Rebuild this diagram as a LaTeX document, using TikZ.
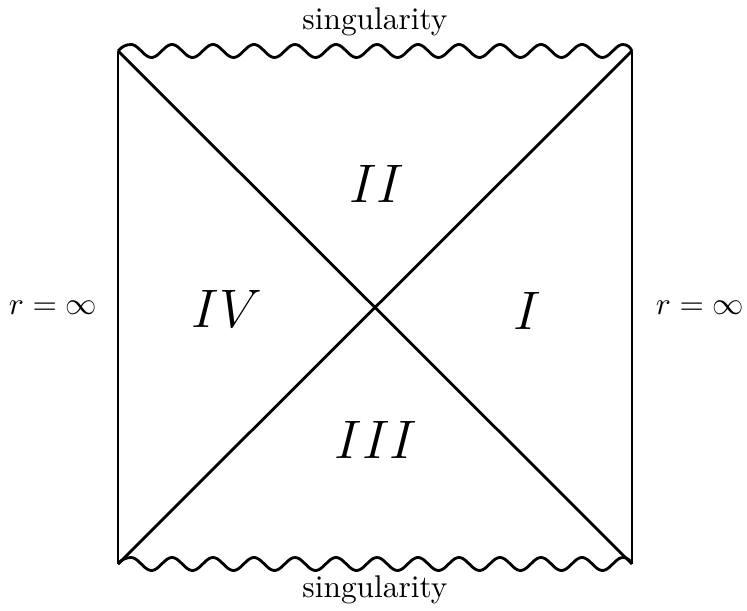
\documentclass[tikz,border=0pt]{standalone}
\begin{document}
\begin{tikzpicture}[x=0.3185pt,y=-0.3185pt,
  edge/.style={line width=0.9pt},
  wavy/.style={line width=0.9pt,line join=round},
  region/.style={font=\LARGE}]
\useasboundingbox (0,0) rectangle (747,611);
\coordinate (tl) at (118,51);
\coordinate (tr) at (632,51);
\coordinate (bl) at (118,564);
\coordinate (br) at (632,564);
\draw[edge] (tl) -- (bl);
\draw[edge] (tr) -- (br);
\draw[edge] (tl) -- (br);
\draw[edge] (bl) -- (tr);
\draw[wavy] (tl) .. controls (122,46.5) and (126,44.5) .. (131,44.5)
  -- plot[domain=131:623,samples=247] (\x,{51-6.5*cos(8.7805*(\x-131))})
  .. controls (627,44.5) and (630,47) .. (tr);
\draw[wavy] (bl) .. controls (122,559.5) and (126,557.5) .. (131,557.5)
  -- plot[domain=131:623,samples=247] (\x,{564-6.5*cos(8.7805*(\x-131))})
  .. controls (627,557.5) and (630,560) .. (br);
\node (stop) at (375,22) {singularity};
\node (sbot) at (375,590) {singularity};
\node (rl) at (53,308) {$r=\infty$};
\node (rr) at (700,308) {$r=\infty$};
\node[region] (r2) at (377,184) {$II$};
\node[region] (r4) at (227,309) {$IV$};
\node[region] (r1) at (527,311) {$I$};
\node[region] (r3) at (376,440) {$III$};
\end{tikzpicture}
\end{document}
